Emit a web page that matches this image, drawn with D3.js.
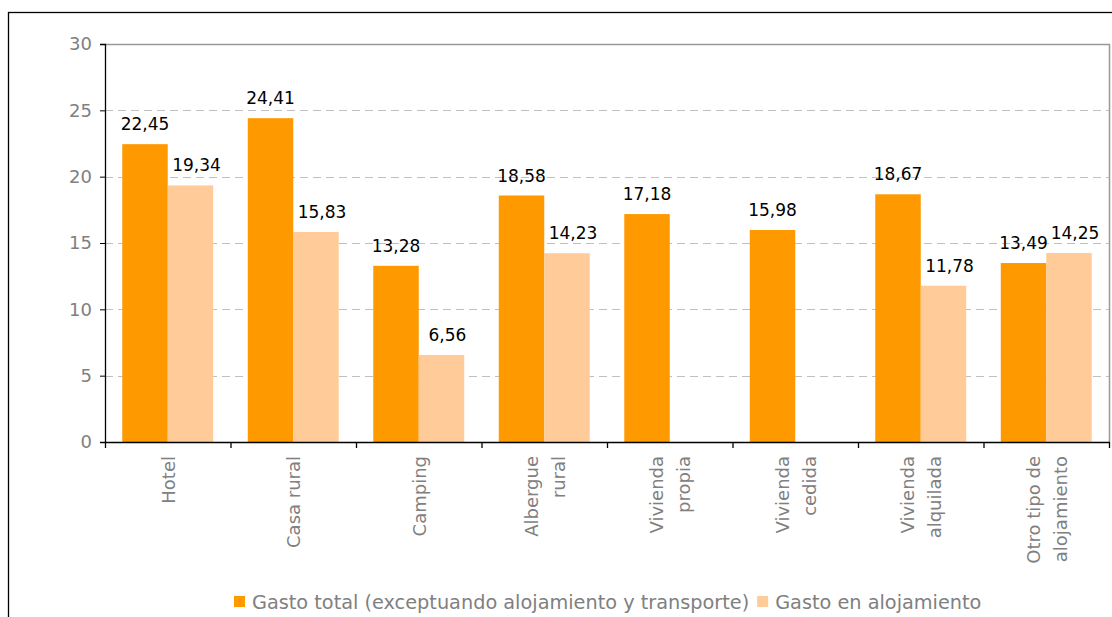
<!DOCTYPE html>
<html>
<head>
<meta charset="utf-8">
<script src="https://cdn.jsdelivr.net/npm/d3@7"></script>
<style>
  html, body { margin: 0; padding: 0; background: #fff; }
  svg { display: block; }
  text { font-family: "DejaVu Sans", sans-serif; }
</style>
</head>
<body>
<svg id="chart" width="1112" height="617"></svg>
<script>
// Gasto medio diario por tipo de alojamiento (euros)
const categories = [
  ["Hotel"],
  ["Casa rural"],
  ["Camping"],
  ["Albergue", "rural"],
  ["Vivienda", "propia"],
  ["Vivienda", "cedida"],
  ["Vivienda", "alquilada"],
  ["Otro tipo de", "alojamiento"]
];
const gastoTotal = [22.45, 24.41, 13.28, 18.58, 17.18, 15.98, 18.67, 13.49];
const gastoAlojamiento = [19.34, 15.83, 6.56, 14.23, null, null, 11.78, 14.25];
const seriesNames = ["Gasto total (exceptuando alojamiento y transporte)", "Gasto en alojamiento"];
const yTicks = [0, 5, 10, 15, 20, 25, 30];

const colors = ["#FF9900", "#FFCC99"];
const svg = d3.select("#chart");

// outer frame
svg.append("rect").attr("x", 8.5).attr("y", 12.5).attr("width", 1120).attr("height", 640)
  .attr("fill", "none").attr("stroke", "#000").attr("stroke-width", 1.3);

const plot = { left: 105, right: 1109, top: 44, bottom: 442 };

const x = d3.scaleBand().domain(d3.range(categories.length))
  .range([plot.left, plot.right]).paddingInner(0).paddingOuter(0);
const inner = d3.scaleBand().domain([0, 1]).range([0, x.bandwidth()])
  .paddingInner(0).paddingOuter(0.38);
const y = d3.scaleLinear().domain([0, 30]).range([plot.bottom, plot.top]);

// gridlines
svg.append("g").selectAll("line").data(yTicks.filter(t => t > 0 && t < 30)).join("line")
  .attr("x1", plot.left).attr("x2", plot.right)
  .attr("y1", d => Math.round(y(d)) + 0.5).attr("y2", d => Math.round(y(d)) + 0.5)
  .attr("stroke", "#c0c0c0").attr("stroke-dasharray", "8,5");

// plot area border (top and right)
svg.append("path")
  .attr("d", `M${plot.left},${plot.top + 0.5}H${plot.right + 0.5}V${plot.bottom}`)
  .attr("fill", "none").attr("stroke", "#999").attr("stroke-width", 1.5);

// bars with value labels
const fmt = v => d3.format(".2f")(v).replace(".", ",");
const series = [gastoTotal, gastoAlojamiento];
series.forEach((vals, s) => {
  const g = svg.append("g");
  const data = vals.map((v, i) => ({ i, v })).filter(d => d.v != null);
  g.selectAll("rect").data(data).join("rect")
    .attr("x", d => x(d.i) + inner(s))
    .attr("width", inner.bandwidth())
    .attr("y", d => y(d.v))
    .attr("height", d => y(0) - y(d.v))
    .attr("fill", colors[s]);
  g.selectAll("text").data(data).join("text")
    .attr("x", d => x(d.i) + inner(s) + inner.bandwidth() / 2 + (s === 1 ? 6 : 0))
    .attr("y", d => y(d.v) - 14)
    .attr("text-anchor", "middle")
    .attr("font-size", 17)
    .attr("fill", "#000")
    .text(d => fmt(d.v));
});

// y axis
const yAxis = d3.axisLeft(y).tickValues(yTicks).tickSize(5).tickPadding(8).tickFormat(d3.format("d"));
const yg = svg.append("g").attr("transform", `translate(${plot.left},0)`).call(yAxis);
yg.select(".domain").attr("stroke", "#000").attr("stroke-width", 1.3);
yg.selectAll(".tick line").attr("stroke", "#000");
yg.selectAll(".tick text").attr("font-size", 18).attr("fill", "#808080")
  .attr("font-family", "'DejaVu Sans', sans-serif");

// x axis
const xg = svg.append("g");
xg.append("line").attr("x1", plot.left).attr("x2", plot.right + 1)
  .attr("y1", plot.bottom + 0.5).attr("y2", plot.bottom + 0.5)
  .attr("stroke", "#000").attr("stroke-width", 1.5);
const bounds = d3.range(categories.length + 1).map(i => i === categories.length ? plot.right : x(i));
xg.selectAll("line.tick").data(bounds).join("line").attr("class", "tick")
  .attr("x1", d => d + 0.5).attr("x2", d => d + 0.5)
  .attr("y1", plot.bottom).attr("y2", plot.bottom + 6)
  .attr("stroke", "#000").attr("stroke-width", 1.3);

// category labels, rotated
categories.forEach((lines, i) => {
  const cx = x(i) + x.bandwidth() / 2;
  const n = lines.length;
  lines.forEach((ln, k) => {
    const off = (k - (n - 1) / 2) * 27;
    svg.append("text")
      .attr("transform", `translate(${cx + off + 7},${plot.bottom + 14}) rotate(-90)`)
      .attr("text-anchor", "end")
      .attr("font-size", 18)
      .attr("fill", "#808080")
      .text(ln);
  });
});

// legend
const legend = svg.append("g").attr("transform", "translate(234,596)");
let lx = 0;
seriesNames.forEach((name, s) => {
  legend.append("rect").attr("x", lx).attr("y", 0).attr("width", 11).attr("height", 11).attr("fill", colors[s]);
  const t = legend.append("text").attr("x", lx + 18).attr("y", 13)
    .attr("font-size", 19.3).attr("fill", "#808080").text(name);
  lx += 18 + t.node().getComputedTextLength() + 8;
});
</script>
</body>
</html>
